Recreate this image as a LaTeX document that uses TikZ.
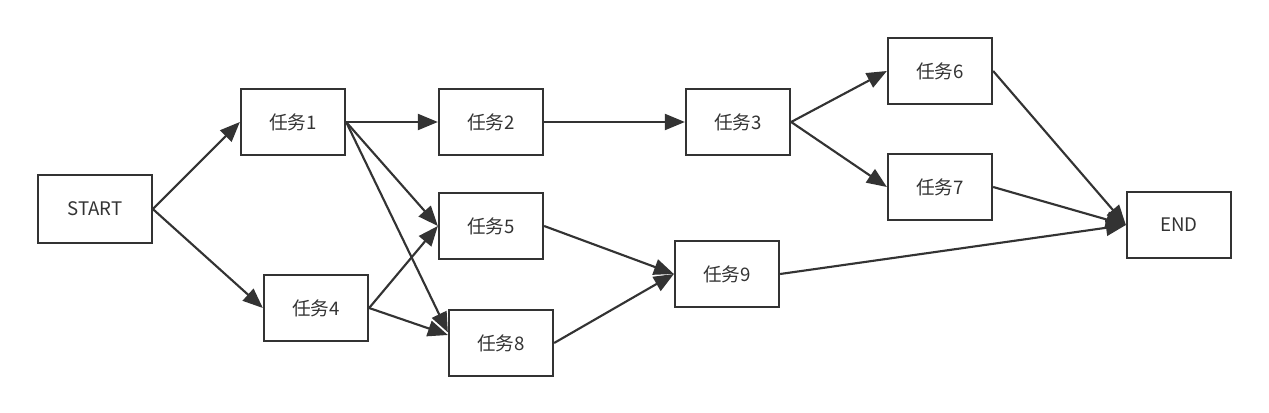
\documentclass[tikz,border=0pt]{standalone}
\usepackage{fontspec}
\usetikzlibrary{arrows.meta}
\newfontfamily\cjk{Noto Sans CJK SC}
\definecolor{figK}{RGB}{51,51,51}

\begin{document}
\begin{tikzpicture}[x=0.75pt,y=-0.75pt,>={Triangle[length=15pt,width=12pt]},
  task/.style={draw=figK,line width=1.7pt,minimum width=78pt,minimum height=49pt,
    inner sep=0pt,font=\cjk\fontsize{14}{16}\selectfont,text=figK},
  link/.style={->,draw=figK,line width=1.6pt}]
\useasboundingbox (0,0) rectangle (1269,413);
% nodes
\node[task,minimum width=85pt,minimum height=51pt] (start) at (95,209) {START};
\node[task] (t1) at (293,122) {任务1};
\node[task] (t2) at (491,122) {任务2};
\node[task] (t3) at (738,122) {任务3};
\node[task] (t4) at (316,308) {任务4};
\node[task] (t5) at (491,226) {任务5};
\node[task] (t6) at (940,71) {任务6};
\node[task] (t7) at (940,187) {任务7};
\node[task] (t8) at (501,343) {任务8};
\node[task] (t9) at (727,274) {任务9};
\node[task] (end) at (1179,225) {END};
% links
\draw[link] (start.east) -- (t1.west);
\draw[link] (start.east) -- (t4.west);
\draw[link] (t1.east) -- (t2.west);
\draw[link] (t1.east) -- (t5.west);
\draw[link] (t1.east) -- ([yshift=8pt]t8.west);
\draw[link] (t4.east) -- (t5.west);
\draw[link] (t4.east) -- ([yshift=6pt]t8.west);
\draw[link] (t2.east) -- (t3.west);
\draw[link] (t3.east) -- (t6.west);
\draw[link] (t3.east) -- (t7.west);
\draw[link] (t5.east) -- (t9.west);
\draw[link] (t8.east) -- (t9.west);
\draw[link] (t6.east) -- (end.west);
\draw[link] (t7.east) -- (end.west);
\draw[link] (t9.east) -- (end.west);
\end{tikzpicture}
\end{document}
